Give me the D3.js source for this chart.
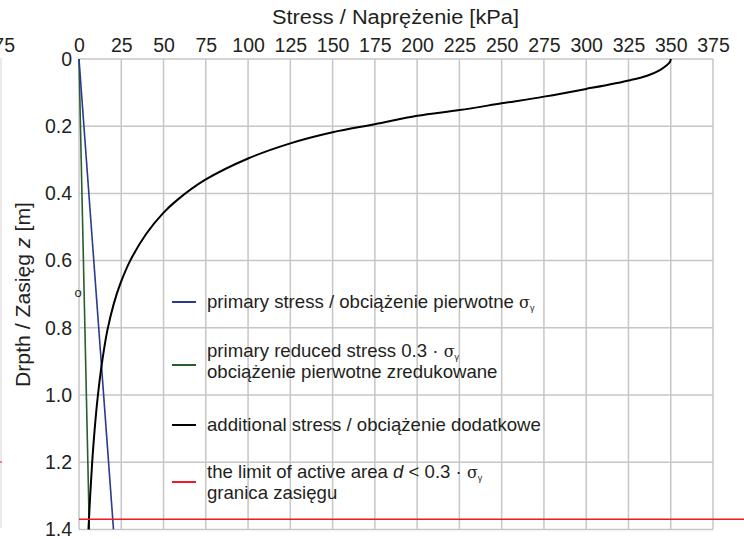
<!DOCTYPE html>
<html>
<head>
<meta charset="utf-8">
<script src="https://cdn.jsdelivr.net/npm/d3@7"></script>
<style>
  body { margin: 0; background: #fff; }
  svg { display: block; font-family: "Liberation Sans", Arial, sans-serif; }
</style>
</head>
<body>
<svg id="chart"></svg>
<script>
// SIZE
const WIDTH = 744
const HEIGHT = 539
const PLOT_LEFT = 79
const PLOT_RIGHT = 713
const PLOT_TOP = 59
const PLOT_BOTTOM = 529.4
const TICK_FONT = 19.5
const TITLE_FONT = 20
const LEGEND_FONT = 18.6

// DATA
const stressTicks = [0, 25, 50, 75, 100, 125, 150, 175, 200, 225, 250, 275, 300, 325, 350, 375]
const depthTicks = [0, 0.2, 0.4, 0.6, 0.8, 1.0, 1.2, 1.4]

const primaryDepth = [0, 1.4]
const primaryStress = [0, 20.4]
const reducedStress = [0, 6.1]

const additionalDepth = [0, 0.008, 0.018, 0.033, 0.05, 0.063, 0.089, 0.112, 0.132, 0.152, 0.169, 0.194, 0.218, 0.251, 0.296, 0.36, 0.42, 0.46, 0.52, 0.6, 0.668, 0.728, 0.807, 0.897, 1.0, 1.1, 1.2, 1.3, 1.4]
const additionalStress = [350, 349.6, 347.8, 343.6, 336, 326, 300, 275, 250, 225, 200, 175, 150, 125, 100, 74.5, 58, 49.5, 39.8, 30.3, 24.5, 20.6, 16.8, 13.8, 11.2, 9.3, 7.8, 6.6, 5.6]

const limitDepth = 1.37

// STYLE
const GRID_COLOR = "#c6c6c6"
const BLUE = "#2b3990"
const GREEN = "#2a5e2e"
const BLACK = "#000000"
const RED = "#ed1c24"
const TEXT_COLOR = "#231f20"

const svg = d3.select("#chart")
  .attr("width", WIDTH)
  .attr("height", HEIGHT)

const x = d3.scaleLinear().domain([0, 375]).range([PLOT_LEFT, PLOT_RIGHT])
const y = d3.scaleLinear().domain([0, 1.4]).range([PLOT_TOP, PLOT_BOTTOM])

// leftovers of the neighbouring figure at the left edge
svg.append("text")
  .attr("x", 15).attr("y", 51.5)
  .attr("text-anchor", "end")
  .attr("font-size", TICK_FONT)
  .attr("fill", TEXT_COLOR)
  .text("375")
svg.append("line")
  .attr("x1", 1).attr("x2", 1)
  .attr("y1", 58).attr("y2", 528)
  .attr("stroke", "#dcdcdc")
  .attr("stroke-width", 1.2)
svg.append("line")
  .attr("x1", 0).attr("x2", 2)
  .attr("y1", 462).attr("y2", 462)
  .attr("stroke", RED)
  .attr("stroke-width", 1.2)

// grid
const grid = svg.append("g")
grid.selectAll("line.v")
  .data(stressTicks)
  .join("line")
  .attr("class", "v")
  .attr("x1", d => x(d)).attr("x2", d => x(d))
  .attr("y1", PLOT_TOP).attr("y2", PLOT_BOTTOM)
  .attr("stroke", GRID_COLOR)
  .attr("stroke-width", 1.5)
grid.selectAll("line.h")
  .data(depthTicks)
  .join("line")
  .attr("class", "h")
  .attr("x1", PLOT_LEFT).attr("x2", PLOT_RIGHT)
  .attr("y1", d => y(d)).attr("y2", d => y(d))
  .attr("stroke", GRID_COLOR)
  .attr("stroke-width", 1.5)

// axes
const topAxis = svg.append("g")
  .attr("transform", `translate(0,${PLOT_TOP})`)
  .call(d3.axisTop(x).tickValues(stressTicks).tickSize(0).tickPadding(7.5))
topAxis.select(".domain").remove()
topAxis.selectAll("text")
  .attr("font-size", TICK_FONT)
  .attr("font-family", "Liberation Sans, Arial, sans-serif")
  .attr("fill", TEXT_COLOR)

const leftAxis = svg.append("g")
  .attr("transform", `translate(${PLOT_LEFT},0)`)
  .call(d3.axisLeft(y).tickValues(depthTicks).tickSize(0).tickPadding(7)
    .tickFormat(d => d === 0 ? "0" : d3.format(".1f")(d)))
leftAxis.select(".domain").remove()
leftAxis.selectAll("text")
  .attr("font-size", TICK_FONT)
  .attr("font-family", "Liberation Sans, Arial, sans-serif")
  .attr("fill", TEXT_COLOR)

svg.append("text")
  .attr("x", 272)
  .attr("y", 24)
  .attr("font-size", TITLE_FONT)
  .attr("textLength", 247)
  .attr("lengthAdjust", "spacingAndGlyphs")
  .attr("fill", TEXT_COLOR)
  .text("Stress / Naprężenie [kPa]")

const yTitle = svg.append("text")
  .attr("transform", "translate(30,387) rotate(-90)")
  .attr("font-size", TITLE_FONT)
  .attr("textLength", 185)
  .attr("lengthAdjust", "spacingAndGlyphs")
  .attr("fill", TEXT_COLOR)
yTitle.append("tspan").text("Drpth / Zasięg ")
yTitle.append("tspan").attr("font-style", "italic").text("z")
yTitle.append("tspan").text(" [m]")

svg.append("text")
  .attr("x", 78).attr("y", 297)
  .attr("text-anchor", "middle")
  .attr("font-size", 13)
  .attr("fill", TEXT_COLOR)
  .text("o")

// series
const lineX = d3.line().x(d => x(d[0])).y(d => y(d[1]))

svg.append("path")
  .datum(d3.zip(reducedStress, primaryDepth))
  .attr("d", lineX)
  .attr("fill", "none")
  .attr("stroke", GREEN)
  .attr("stroke-width", 1.6)

svg.append("path")
  .datum(d3.zip(primaryStress, primaryDepth))
  .attr("d", lineX)
  .attr("fill", "none")
  .attr("stroke", BLUE)
  .attr("stroke-width", 1.6)

svg.append("path")
  .datum(d3.zip(additionalStress, additionalDepth))
  .attr("d", d3.line().x(d => x(d[0])).y(d => y(d[1])).curve(d3.curveCatmullRom.alpha(0.5)))
  .attr("fill", "none")
  .attr("stroke", BLACK)
  .attr("stroke-width", 2)

svg.append("line")
  .attr("x1", PLOT_LEFT).attr("x2", WIDTH)
  .attr("y1", y(limitDepth)).attr("y2", y(limitDepth))
  .attr("stroke", RED)
  .attr("stroke-width", 1.6)

// legend
const LEGEND_LINE_X1 = 172
const LEGEND_LINE_X2 = 196
const LEGEND_TEXT_X = 207

function sigma(textSel) {
  textSel.append("tspan").attr("font-family", "DejaVu Serif, serif").attr("font-size", 16).text("σ")
  textSel.append("tspan").attr("font-size", 9).attr("dy", 3).text("γ")
}

function legendLine(yPos, color) {
  svg.append("line")
    .attr("x1", LEGEND_LINE_X1).attr("x2", LEGEND_LINE_X2)
    .attr("y1", yPos).attr("y2", yPos)
    .attr("stroke", color)
    .attr("stroke-width", 2)
}

function legendText(yPos) {
  return svg.append("text")
    .attr("x", LEGEND_TEXT_X).attr("y", yPos)
    .attr("font-size", LEGEND_FONT)
    .attr("fill", TEXT_COLOR)
}

legendLine(302, BLUE)
const t1 = legendText(308)
t1.append("tspan").text("primary stress / obciążenie pierwotne ")
sigma(t1)

legendLine(365, GREEN)
const t2 = legendText(357)
t2.append("tspan").text("primary reduced stress 0.3 · ")
sigma(t2)
legendText(378).text("obciążenie pierwotne zredukowane")

legendLine(425, BLACK)
legendText(431).text("additional stress / obciążenie dodatkowe")

legendLine(482, RED)
const t4 = legendText(478)
t4.append("tspan").text("the limit of active area ")
t4.append("tspan").attr("font-style", "italic").text("d")
t4.append("tspan").text(" < 0.3 · ")
sigma(t4)
legendText(499).text("granica zasięgu")
</script>
</body>
</html>
